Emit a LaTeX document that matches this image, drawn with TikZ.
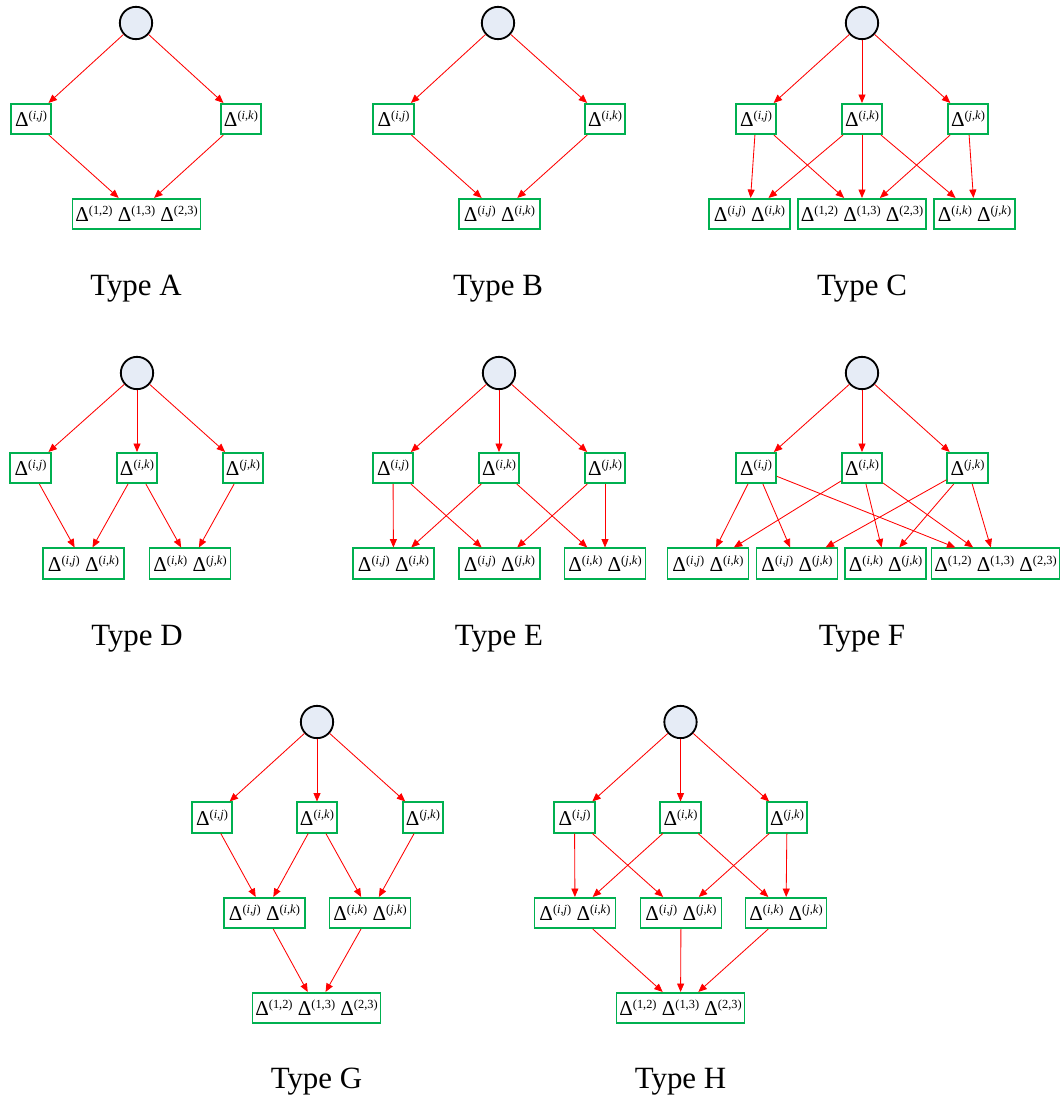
\documentclass[tikz,border=0pt]{standalone}
\usepackage{fontspec}
\setmainfont{Liberation Serif}
\usetikzlibrary{arrows.meta}
\definecolor{boxgreen}{RGB}{0,176,80}
\definecolor{rootfill}{RGB}{230,236,246}
\newcommand{\supx}[1]{\raisebox{4.8pt}{\fontsize{8.8}{9}\selectfont(#1)}}
\newcommand{\dv}[2]{Δ\supx{\textit{#1},\textit{#2}}}
\newcommand{\dn}[2]{Δ\supx{#1,#2}}

\begin{document}
\begin{tikzpicture}[
    x=0.025cm, y=-0.025cm,
    root/.style={circle, draw=black, line width=1.3pt, fill=rootfill, minimum size=23pt, inner sep=0pt},
    box/.style={rectangle, draw=boxgreen, line width=1.4pt, minimum height=21.4pt, minimum width=#1, inner xsep=2pt, inner ysep=0pt, font=\fontsize{15}{17}\selectfont},
    box/.default=28.5pt,
    arr/.style={-{Triangle[length=6pt, width=5pt]}, red, line width=0.6pt},
    lbl/.style={anchor=base, font=\fontsize{22}{26}\selectfont}
]
    \useasboundingbox (0,0) rectangle (1062,1098);

    % Type A
    \node[root] (a0) at (136,23) {};
    \node[box] (a1) at (31,119) {\dv{i}{j}};
    \node[box] (a2) at (241,119) {\dv{i}{k}};
    \node[box=87.5pt] (a3) at (136.5,214) {\dn{1}{2} \dn{1}{3} \dn{2}{3}};
    \draw[arr] (a0) -- (a1);
    \draw[arr] (a0) -- (a2);
    \draw[arr] (a1) -- (a3);
    \draw[arr] (a2) -- (a3);
    \node[lbl] (la) at (136,295) {Type A};

    % Type B
    \node[root] (b0) at (498,23) {};
    \node[box] (b1) at (393.5,119) {\dv{i}{j}};
    \node[box] (b2) at (605,119) {\dv{i}{k}};
    \node[box=57.6pt] (b3) at (499.5,214) {\dv{i}{j} \dv{i}{k}};
    \draw[arr] (b0) -- (b1);
    \draw[arr] (b0) -- (b2);
    \draw[arr] (b1) -- (b3);
    \draw[arr] (b2) -- (b3);
    \node[lbl] (lb) at (498,295) {Type B};

    % Type C
    \node[root] (c0) at (862,23) {};
    \node[box] (c1) at (756,119) {\dv{i}{j}};
    \node[box] (c2) at (862,119) {\dv{i}{k}};
    \node[box] (c3) at (968,119) {\dv{j}{k}};
    \node[box=57.6pt] (c4) at (749.5,214) {\dv{i}{j} \dv{i}{k}};
    \node[box=87.5pt] (c5) at (862,214) {\dn{1}{2} \dn{1}{3} \dn{2}{3}};
    \node[box=57.6pt] (c6) at (974.5,214) {\dv{i}{k} \dv{j}{k}};
    \draw[arr] (c0) -- (c1);
    \draw[arr] (c0) -- (c2);
    \draw[arr] (c0) -- (c3);
    \draw[arr] (c1) -- (c4);
    \draw[arr] (c1) -- (c5);
    \draw[arr] (c2) -- (c4);
    \draw[arr] (c2) -- (c5);
    \draw[arr] (c2) -- (c6);
    \draw[arr] (c3) -- (c5);
    \draw[arr] (c3) -- (c6);
    \node[lbl] (lc) at (862,295) {Type C};

    % Type D
    \node[root] (d0) at (137,373) {};
    \node[box] (d1) at (30.5,468) {\dv{i}{j}};
    \node[box] (d2) at (137,468) {\dv{i}{k}};
    \node[box] (d3) at (243,468) {\dv{j}{k}};
    \node[box=57.6pt] (d4) at (83.5,563.5) {\dv{i}{j} \dv{i}{k}};
    \node[box=57.6pt] (d5) at (190,563.5) {\dv{i}{k} \dv{j}{k}};
    \draw[arr] (d0) -- (d1);
    \draw[arr] (d0) -- (d2);
    \draw[arr] (d0) -- (d3);
    \draw[arr] (d1) -- (d4);
    \draw[arr] (d2) -- (d4);
    \draw[arr] (d2) -- (d5);
    \draw[arr] (d3) -- (d5);
    \node[lbl] (ld) at (137,645) {Type D};

    % Type E
    \node[root] (e0) at (499,373) {};
    \node[box] (e1) at (393,468) {\dv{i}{j}};
    \node[box] (e2) at (499,468) {\dv{i}{k}};
    \node[box] (e3) at (605,468) {\dv{j}{k}};
    \node[box=57.6pt] (e4) at (393.5,563.5) {\dv{i}{j} \dv{i}{k}};
    \node[box=57.6pt] (e5) at (499.5,563.5) {\dv{i}{j} \dv{j}{k}};
    \node[box=57.6pt] (e6) at (605,563.5) {\dv{i}{k} \dv{j}{k}};
    \draw[arr] (e0) -- (e1);
    \draw[arr] (e0) -- (e2);
    \draw[arr] (e0) -- (e3);
    \draw[arr] (e1) -- (e4);
    \draw[arr] (e1) -- (e5);
    \draw[arr] (e2) -- (e4);
    \draw[arr] (e2) -- (e6);
    \draw[arr] (e3) -- (e5);
    \draw[arr] (e3) -- (e6);
    \node[lbl] (le) at (499,645) {Type E};

    % Type F
    \node[root] (f0) at (862,373) {};
    \node[box] (f1) at (756,468) {\dv{i}{j}};
    \node[box] (f2) at (862,468) {\dv{i}{k}};
    \node[box] (f3) at (967.5,468) {\dv{j}{k}};
    \node[box=57.6pt] (f4) at (708,563.5) {\dv{i}{j} \dv{i}{k}};
    \node[box=57.6pt] (f5) at (797,563.5) {\dv{i}{j} \dv{j}{k}};
    \node[box=57.6pt] (f6) at (885.5,563.5) {\dv{i}{k} \dv{j}{k}};
    \node[box=87.5pt] (f7) at (995.5,563.5) {\dn{1}{2} \dn{1}{3} \dn{2}{3}};
    \draw[arr] (f0) -- (f1);
    \draw[arr] (f0) -- (f2);
    \draw[arr] (f0) -- (f3);
    \draw[arr] (f1) -- (f4);
    \draw[arr] (f1) -- (f5);
    \draw[arr] (f1) -- (f7);
    \draw[arr] (f2) -- (f4);
    \draw[arr] (f2) -- (f6);
    \draw[arr] (f2) -- (f7);
    \draw[arr] (f3) -- (f5);
    \draw[arr] (f3) -- (f6);
    \draw[arr] (f3) -- (f7);
    \node[lbl] (lf) at (862,645) {Type F};

    % Type G
    \node[root] (g0) at (317,722) {};
    \node[box] (g1) at (212,817.5) {\dv{i}{j}};
    \node[box] (g2) at (317,817.5) {\dv{i}{k}};
    \node[box] (g3) at (423,817.5) {\dv{j}{k}};
    \node[box=57.6pt] (g4) at (264.5,913) {\dv{i}{j} \dv{i}{k}};
    \node[box=57.6pt] (g5) at (370,913) {\dv{i}{k} \dv{j}{k}};
    \node[box=87.5pt] (g6) at (316.5,1008) {\dn{1}{2} \dn{1}{3} \dn{2}{3}};
    \draw[arr] (g0) -- (g1);
    \draw[arr] (g0) -- (g2);
    \draw[arr] (g0) -- (g3);
    \draw[arr] (g1) -- (g4);
    \draw[arr] (g2) -- (g4);
    \draw[arr] (g2) -- (g5);
    \draw[arr] (g3) -- (g5);
    \draw[arr] (g4) -- (g6);
    \draw[arr] (g5) -- (g6);
    \node[lbl] (lg) at (316.5,1088) {Type G};

    % Type H
    \node[root] (h0) at (680.5,722) {};
    \node[box] (h1) at (574.5,817.5) {\dv{i}{j}};
    \node[box] (h2) at (680.5,817.5) {\dv{i}{k}};
    \node[box] (h3) at (787,817.5) {\dv{j}{k}};
    \node[box=57.6pt] (h4) at (575,913) {\dv{i}{j} \dv{i}{k}};
    \node[box=57.6pt] (h5) at (681,913) {\dv{i}{j} \dv{j}{k}};
    \node[box=57.6pt] (h6) at (786,913) {\dv{i}{k} \dv{j}{k}};
    \node[box=87.5pt] (h7) at (680.5,1008) {\dn{1}{2} \dn{1}{3} \dn{2}{3}};
    \draw[arr] (h0) -- (h1);
    \draw[arr] (h0) -- (h2);
    \draw[arr] (h0) -- (h3);
    \draw[arr] (h1) -- (h4);
    \draw[arr] (h1) -- (h5);
    \draw[arr] (h2) -- (h4);
    \draw[arr] (h2) -- (h6);
    \draw[arr] (h3) -- (h5);
    \draw[arr] (h3) -- (h6);
    \draw[arr] (h4) -- (h7);
    \draw[arr] (h5) -- (h7);
    \draw[arr] (h6) -- (h7);
    \node[lbl] (lh) at (680.5,1088) {Type H};
\end{tikzpicture}
\end{document}
